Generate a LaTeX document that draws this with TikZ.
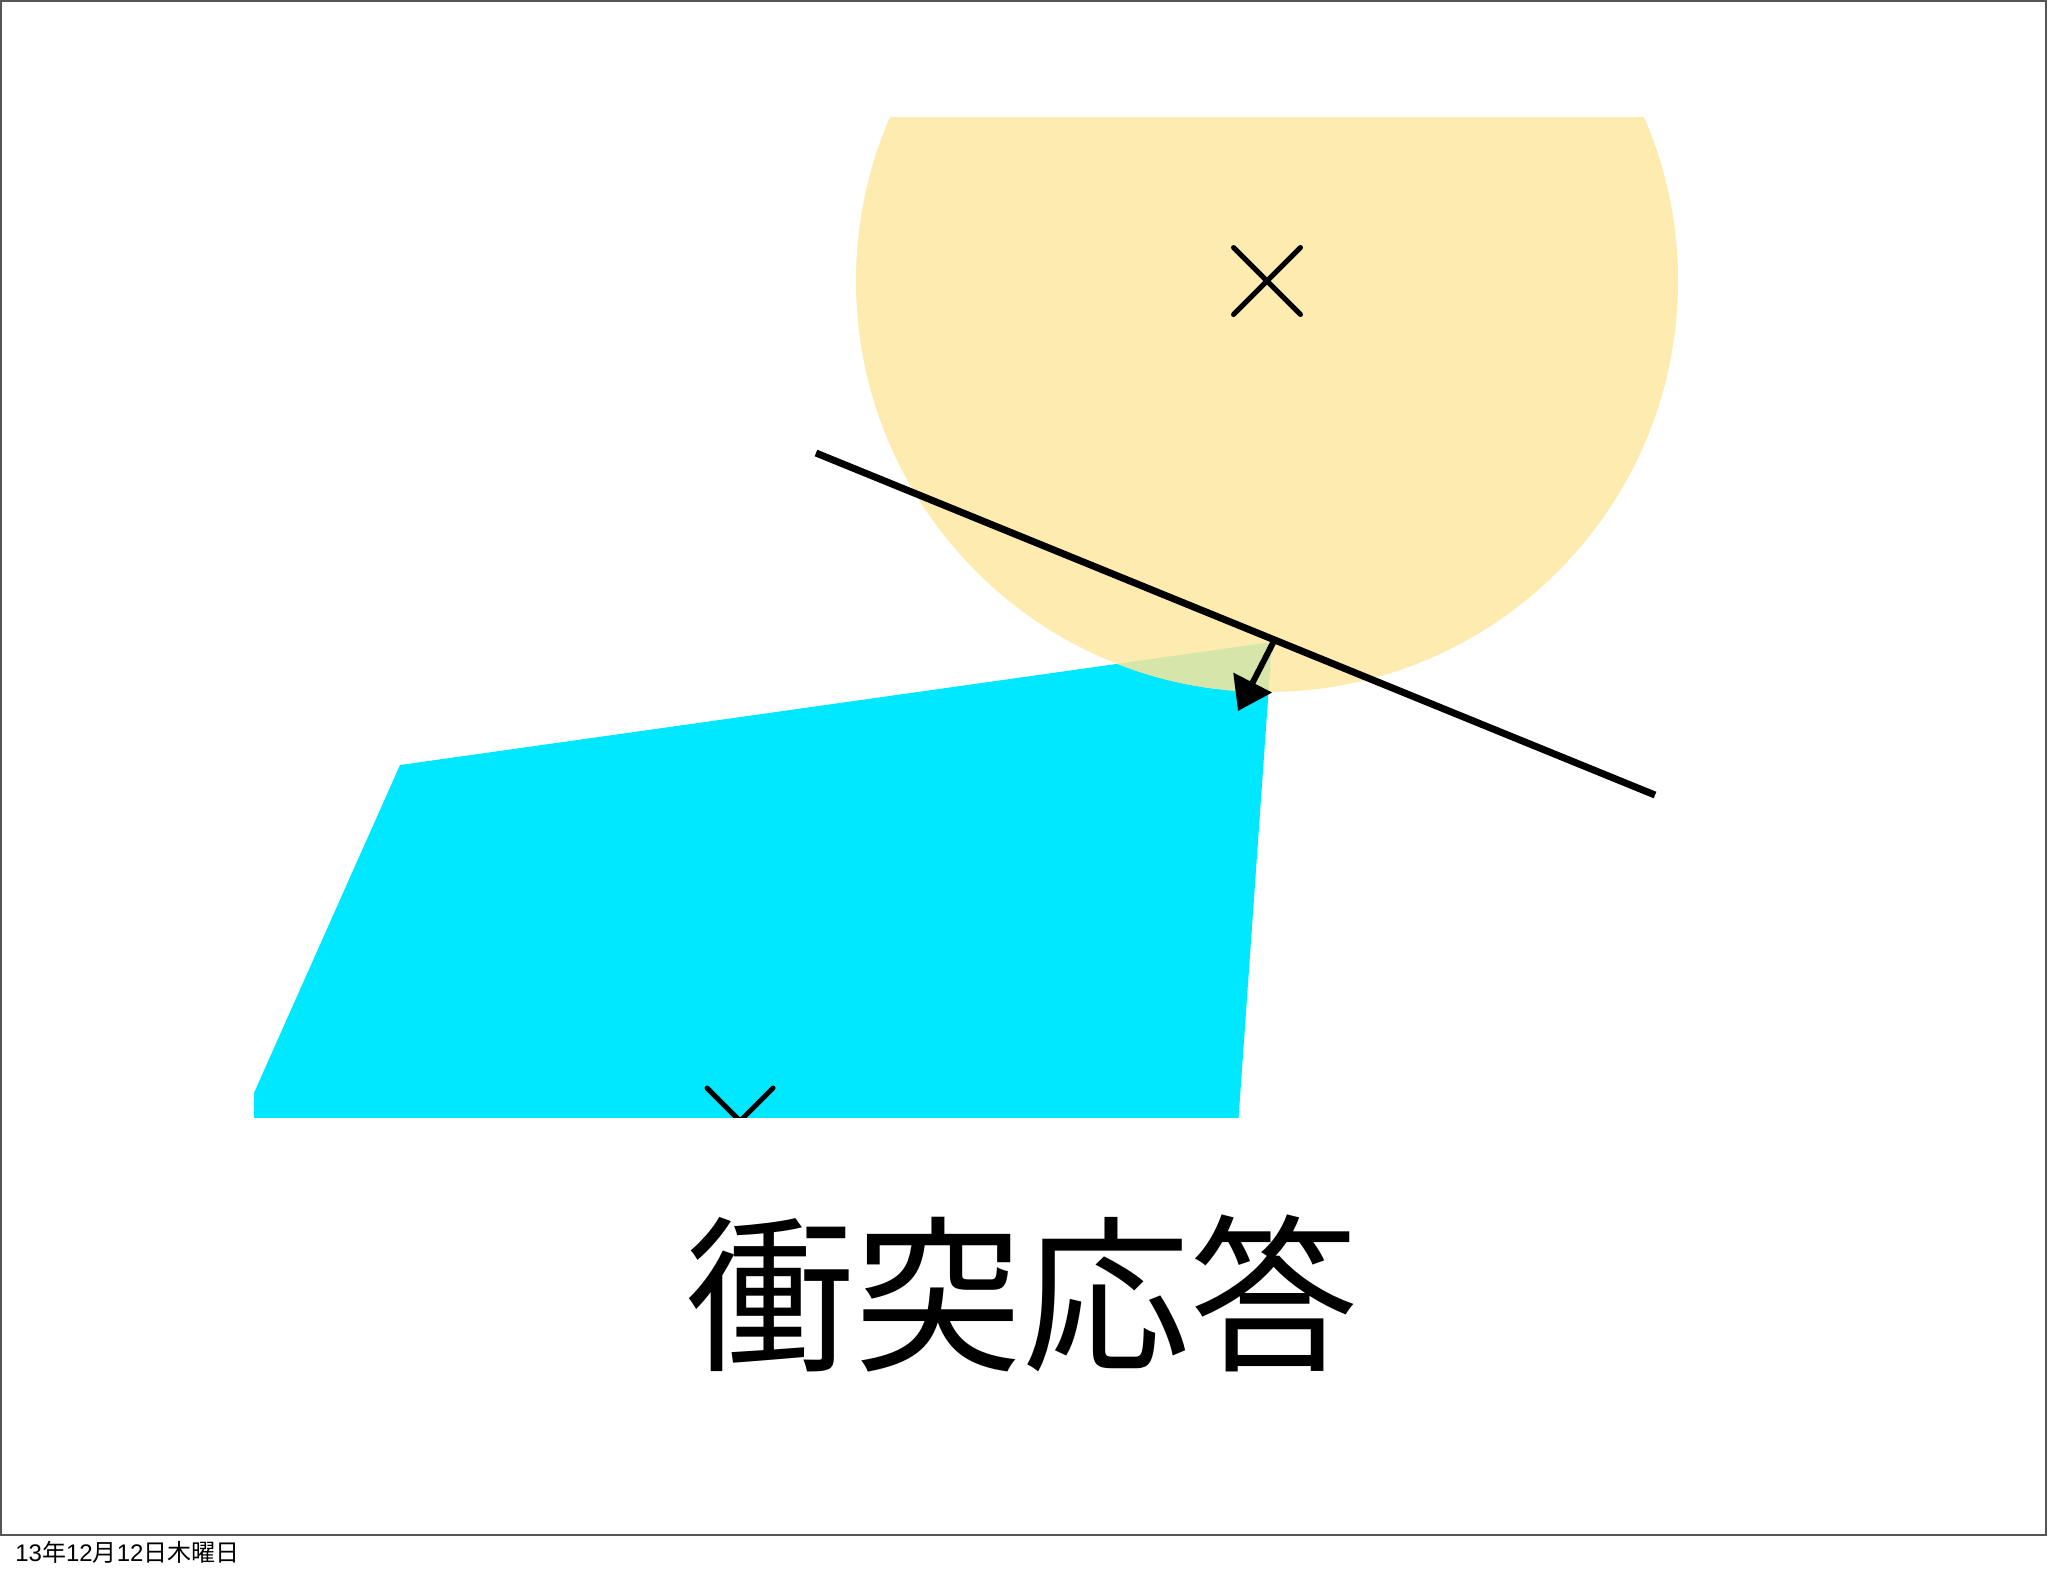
\documentclass[tikz,border=0pt]{standalone}
\usepackage{fontspec}
\setmainfont{Noto Sans CJK JP}
\newfontfamily\latinsans{Liberation Sans}
\usetikzlibrary{arrows.meta}
\definecolor{circyellow}{RGB}{254,235,175}
\definecolor{polycyan}{RGB}{0,232,255}
\definecolor{overlapgreen}{RGB}{214,230,170}
\definecolor{framegray}{RGB}{85,85,85}
\tikzset{
  crossmark/.style={line width=2.5pt, line cap=round, black},
  normalline/.style={line width=3.5pt, black},
  pusharrow/.style={line width=3pt, black, -{Triangle[length=16pt,width=21pt]}},
}
\begin{document}
\begin{tikzpicture}[x=0.5pt,y=-0.5pt]
\useasboundingbox (0,0) rectangle (2048,1576);
\fill[white] (0,0) rectangle (2048,1576);
\draw[framegray, line width=0.8pt] (1,1) rectangle (2046,1535);

% polygon (cropped at left and bottom)
\begin{scope}
  \clip (254,0) rectangle (2048,1117);
  \fill[polycyan] (400,765) -- (1272,642) -- (1237,1140) -- (233,1140) -- cycle;
\end{scope}

% circle (cropped at top)
\begin{scope}
  \clip (0,117) rectangle (2048,1576);
  \fill[circyellow] (1267,281) circle (411);
\end{scope}

% overlap
\begin{scope}
  \clip (254,0) rectangle (2048,1117);
  \clip (400,765) -- (1272,642) -- (1237,1140) -- (233,1140) -- cycle;
  \fill[overlapgreen] (1267,281) circle (411);
\end{scope}

% centre marks
\draw[crossmark] (1233.5,247.5) -- (1300.5,314.5);
\draw[crossmark] (1233.5,314.5) -- (1300.5,247.5);
\begin{scope}
  \clip (0,0) rectangle (2048,1117);
  \draw[crossmark] (707,1088) -- (773,1154);
  \draw[crossmark] (773,1088) -- (707,1154);
\end{scope}

% separating line and push arrow
\coordinate (lineA) at (816,453);
\coordinate (lineB) at (1655,795);
\coordinate (arrowFrom) at (1274,641);
\coordinate (arrowTo) at (1238,711);
\draw[normalline] (lineA) -- (lineB);
\draw[pusharrow] (arrowFrom) -- (arrowTo);

% title
\node[font=\fontsize{84}{96}\selectfont, inner sep=0pt] (title) at (1022,1293) {衝突応答};

% date footer
\node[font=\fontsize{12}{14}\selectfont, inner sep=0pt, anchor=base west] (date) at (15,1561) {{\latinsans 13}年{\latinsans 12}月{\latinsans 12}日木曜日};
\end{tikzpicture}
\end{document}
